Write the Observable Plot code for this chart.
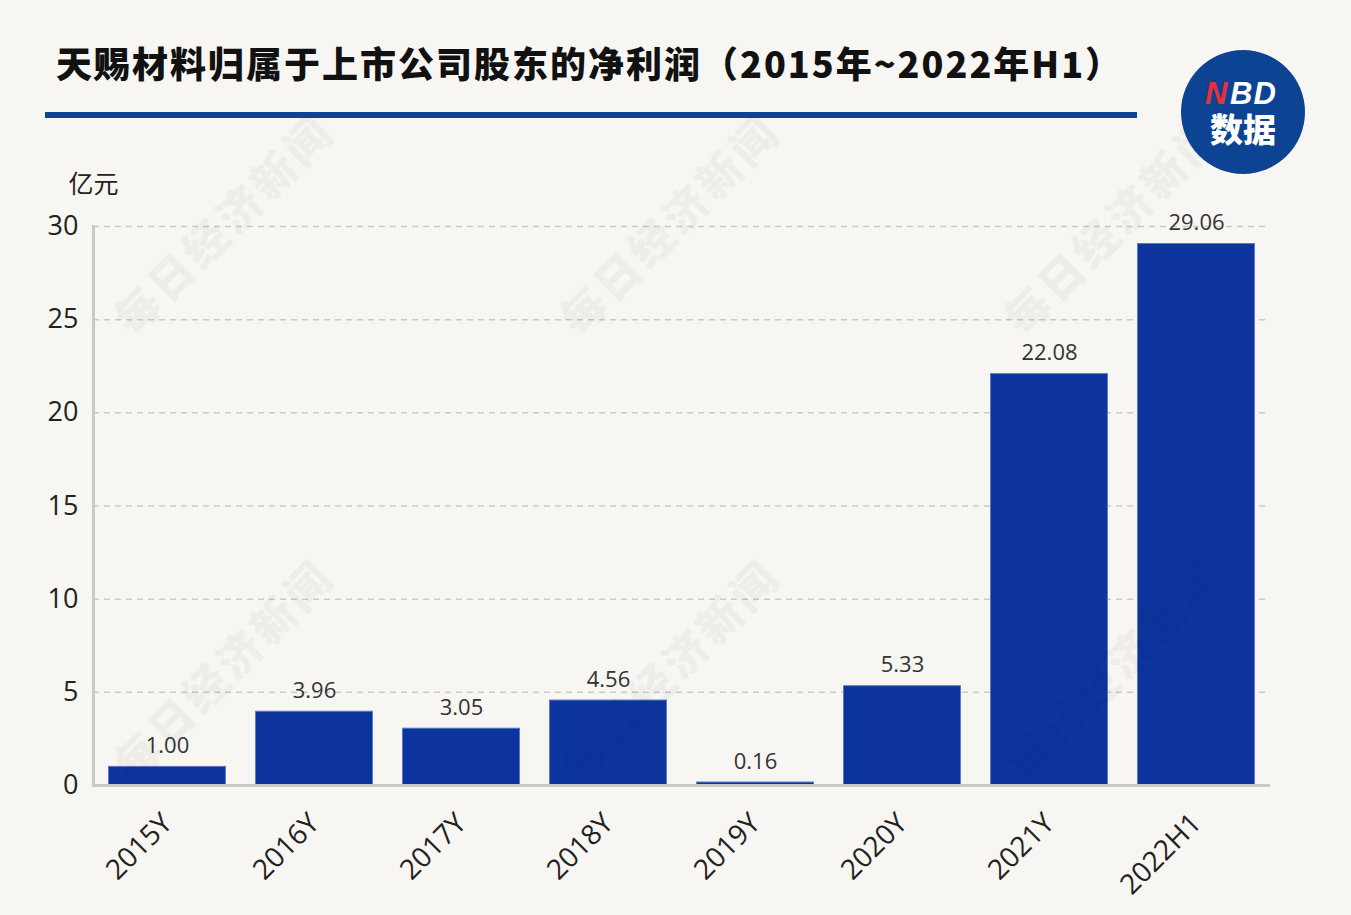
<!DOCTYPE html>
<html>
<head>
<meta charset="utf-8">
<script src="https://cdn.jsdelivr.net/npm/d3@7"></script>
<script src="https://cdn.jsdelivr.net/npm/@observablehq/plot@0.6"></script>
<style>
  html, body { margin: 0; padding: 0; background: #f8f6f2; }
  body { width: 1351px; height: 915px; position: relative; overflow: hidden;
         font-family: "Open Sans", "Noto Sans CJK SC", sans-serif; }
  #head { position: relative; height: 140px; }
  #title { position: absolute; left: 56px; top: 44px; font-family: "Noto Sans CJK SC", sans-serif;
           font-weight: 900; font-size: 36px; letter-spacing: 2px; color: #111; white-space: nowrap; line-height: 1; }
  #rule { position: absolute; left: 45px; top: 112px; width: 1092px; height: 6px; background: #0b4696; }
  #logo { position: absolute; left: 1181px; top: 50px; width: 124px; height: 124px; border-radius: 50%;
          background: #0d4393; z-index: 5; color: #fff; }
  #logo .n, #logo .bd { position: absolute; top: 28px; font-family: "Liberation Sans", sans-serif;
               font-weight: bold; font-style: italic; font-size: 31px; line-height: 31px; height: 31px; }
  #logo .n { left: 24px; width: 24px; color: #e8303a; }
  #logo .bd { left: 49px; width: 54px; letter-spacing: 1px; }
  #logo .sj { position: absolute; left: 0; right: 0; top: 62px; text-align: center; font-family: "Noto Sans CJK SC", sans-serif;
              font-weight: 900; font-size: 33px; line-height: 33px; height: 33px; }
  .wm { position: absolute; font-family: "Noto Sans CJK SC", sans-serif; font-weight: 900; font-size: 44px;
        letter-spacing: 4px; color: #000; opacity: 0.03; transform: translate(-50%, -50%) rotate(-45deg);
        white-space: nowrap; z-index: 3; pointer-events: none; line-height: 1; }
  #chart { position: relative; }
</style>
</head>
<body>
<div id="head">
  <div id="title">天赐材料归属于上市公司股东的净利润（2015年~2022年H1）</div>
  <div id="rule"></div>
</div>
<div id="logo"><div class="n">N</div><div class="bd">BD</div><div class="sj">数据</div></div>
<div id="chart"></div>
<script>
const categories = ["2015Y", "2016Y", "2017Y", "2018Y", "2019Y", "2020Y", "2021Y", "2022H1"];
const values = [1.00, 3.96, 3.05, 4.56, 0.16, 5.33, 22.08, 29.06];
const yTicks = [0, 5, 10, 15, 20, 25, 30];
const unitLabel = "亿元";
const watermark = "每日经济新闻";

const data = categories.map((c, i) => ({cat: c, value: values[i]}));

const chart = Plot.plot({
  width: 1351,
  height: 775,
  marginTop: 86,
  marginBottom: 130,
  marginLeft: 93,
  marginRight: 81,
  style: {background: "transparent", fontFamily: "'Open Sans','Noto Sans CJK SC',sans-serif", color: "#222"},
  x: {domain: categories, paddingInner: 0.2, paddingOuter: 0.1, label: null},
  y: {domain: [0, 30], label: null},
  marks: [
    Plot.gridY(yTicks, {stroke: "#c9c9c9", strokeOpacity: 1, strokeWidth: 1.5, strokeDasharray: "6,5"}),
    Plot.barY(data, {x: "cat", y: "value", fill: "#0c349c", stroke: "#5a7cc6", strokeWidth: 1, insetLeft: 0.5, insetRight: 0.5}),
    Plot.frame({anchor: "left", stroke: "#c9c9c9", strokeWidth: 3}),
    Plot.ruleY([0], {stroke: "#c9c9c9", strokeWidth: 3}),
    Plot.axisY(yTicks, {tickSize: 0, tickPadding: 15, fontSize: 27, fill: "#222", label: null}),
    Plot.axisX({tickSize: 0, tickPadding: 33, tickRotate: -45, fontSize: 28, fill: "#222", label: null}),
    Plot.text(data, {x: "cat", y: "value", text: d => d.value.toFixed(2), lineAnchor: "bottom", dy: -14, fontSize: 22, fill: "#333"}),
    Plot.text([unitLabel], {frameAnchor: "top-left", textAnchor: "middle", dy: -51, fontSize: 25, fill: "#222"})
  ]
});
document.getElementById("chart").appendChild(chart);

// decorative faint watermarks (centres)
const wmPos = [[222, 223], [668, 223], [1112, 223], [222, 668], [668, 668], [1112, 668]];
for (const [l, t] of wmPos) {
  const d = document.createElement("div");
  d.className = "wm";
  d.style.left = l + "px";
  d.style.top = t + "px";
  d.textContent = watermark;
  document.body.appendChild(d);
}
</script>
</body>
</html>
